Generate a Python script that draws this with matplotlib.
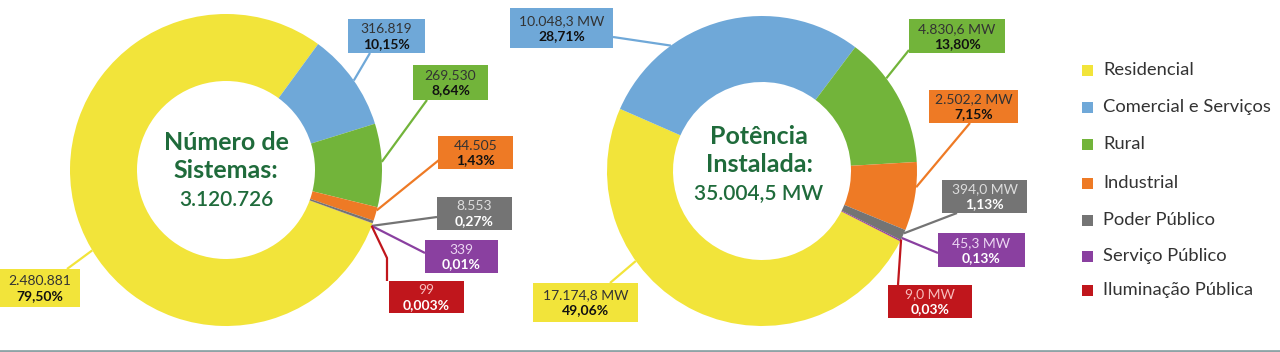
import matplotlib.pyplot as plt
from matplotlib.patches import Rectangle
import numpy as np

plt.rcParams['font.family'] = ['Lato', 'DejaVu Sans']

# dati
categorias = ['Residencial', 'Comercial e Serviços', 'Rural', 'Industrial',
              'Poder Público', 'Serviço Público', 'Iluminação Pública']
cores = ['#F2E43A', '#6FA8D8', '#72B43A', '#EE7A25', '#747474', '#8A40A0', '#C0161C']

sistemas = [2480881, 316819, 269530, 44505, 8553, 339, 99]
sistemas_txt = ['2.480.881', '316.819', '269.530', '44.505', '8.553', '339', '99']
sistemas_pct = ['79,50%', '10,15%', '8,64%', '1,43%', '0,27%', '0,01%', '0,003%']
sistemas_total = '3.120.726'

potencia = [17174.8, 10048.3, 4830.6, 2502.2, 394.0, 45.3, 9.0]
potencia_txt = ['17.174,8 MW', '10.048,3 MW', '4.830,6 MW', '2.502,2 MW',
                '394,0 MW', '45,3 MW', '9,0 MW']
potencia_pct = ['49,06%', '28,71%', '13,80%', '7,15%', '1,13%', '0,13%', '0,03%']
potencia_total = '35.004,5 MW'

# cores do texto dentro das caixas
cor_valor = ['#333333'] * 4 + ['#dddddd', '#ecd6f3', '#f7bcbc']
cor_pct = ['#111111'] * 4 + ['white'] * 3

W, H = 1280, 352
verde = '#1F6B3B'

fig = plt.figure(figsize=(12.8, 3.52), dpi=100)
ax = fig.add_axes([0, 0, 1, 1])


def donut(vals, cx, cy, R, r, start):
    ax.pie(vals, colors=cores, startangle=start, counterclock=False,
           center=(cx, H - cy), radius=R,
           wedgeprops=dict(width=R - r, linewidth=0))


def caixa(box, cor, txt1, txt2, c1, c2):
    x0, x1, y0, y1 = box
    ax.add_patch(Rectangle((x0, H - y1), x1 - x0, y1 - y0, facecolor=cor,
                           edgecolor='none', zorder=3))
    xm = (x0 + x1) / 2
    ym = (y0 + y1) / 2
    ax.text(xm, H - (ym - 7), txt1, ha='center', va='center', fontsize=10,
            color=c1, zorder=4)
    ax.text(xm, H - (ym + 8), txt2, ha='center', va='center', fontsize=10,
            color=c2, fontweight='bold', zorder=4)


def rotulos(cx, cy, R, angulos, caixas, pontas, txts, pcts):
    for i in range(len(cores)):
        a = np.radians(angulos[i])
        ax0 = cx + R * np.cos(a)
        ay0 = H - cy + R * np.sin(a)
        xs = [ax0] + [p[0] for p in pontas[i]]
        ys = [ay0] + [H - p[1] for p in pontas[i]]
        ax.plot(xs, ys, color=cores[i], lw=1.6, zorder=2,
                solid_capstyle='butt')
        caixa(caixas[i], cores[i], txts[i], pcts[i], cor_valor[i], cor_pct[i])


# ---- donut esquerdo: número de sistemas
cx1, cy1, R1, r1 = 226, 170, 156, 89
donut(sistemas, cx1, cy1, R1, r1, -20)
ang1 = [211, 35, 3, -15, -21, -21, -21]
box1 = [(0, 80, 269, 307), (348, 425, 19, 53), (413, 488, 65, 100),
        (438, 513, 136, 169), (437, 512, 197, 230), (425, 498, 240, 273),
        (389, 464, 281, 313)]
pt1 = [[(67, 269)], [(370, 53)], [(427, 100)], [(439, 160)], [(437, 217)],
       [(425, 253)], [(387, 258), (387, 281)]]
rotulos(cx1, cy1, R1, ang1, box1, pt1, sistemas_txt, sistemas_pct)

ax.text(cx1, H - 142, 'Número de', ha='center', va='center', fontsize=18,
        fontweight='bold', color=verde)
ax.text(cx1, H - 170, 'Sistemas:', ha='center', va='center', fontsize=18,
        fontweight='bold', color=verde)
ax.text(cx1, H - 200, sistemas_total, ha='center', va='center', fontsize=15,
        fontweight='semibold', color=verde)

# ---- donut direito: potência instalada
cx2, cy2, R2, r2 = 762, 171, 155, 89
donut(potencia, cx2, cy2, R2, r2, -27)
ang2 = [215.5, 126, 36.7, -6, -23.7, -25.6, -26.2]
box2 = [(533, 638, 283, 322), (510, 613, 8, 48), (909, 1005, 19, 53),
        (929, 1018, 90, 123), (942, 1027, 180, 213), (938, 1025, 233, 267),
        (888, 972, 285, 318)]
pt2 = [[(610, 283)], [(613, 37)], [(909, 50)], [(970, 123)], [(957, 213)],
       [(938, 253)], [(898, 285)]]
rotulos(cx2, cy2, R2, ang2, box2, pt2, potencia_txt, potencia_pct)

ax.text(cx2 - 3, H - 137, 'Potência', ha='center', va='center', fontsize=18,
        fontweight='bold', color=verde)
ax.text(cx2 - 3, H - 165, 'Instalada:', ha='center', va='center', fontsize=18,
        fontweight='bold', color=verde)
ax.text(cx2 - 3, H - 193, potencia_total, ha='center', va='center',
        fontsize=15, fontweight='semibold', color=verde)

# ---- legenda
leg_y = [70, 107, 144, 183, 220, 256, 290]
for i, nome in enumerate(categorias):
    ax.add_patch(Rectangle((1082, H - leg_y[i] - 5.5), 11, 11,
                           facecolor=cores[i], edgecolor='none'))
    ax.text(1103, H - leg_y[i], nome, ha='left', va='center', fontsize=13.2,
            color='#333333')

# linha inferior
ax.plot([0, W], [1, 1], color='#8EA3A6', lw=2)

ax.set_xlim(0, W)
ax.set_ylim(0, H)
ax.set_aspect('auto')
ax.axis('off')

fig.savefig('out.png', dpi=100)
